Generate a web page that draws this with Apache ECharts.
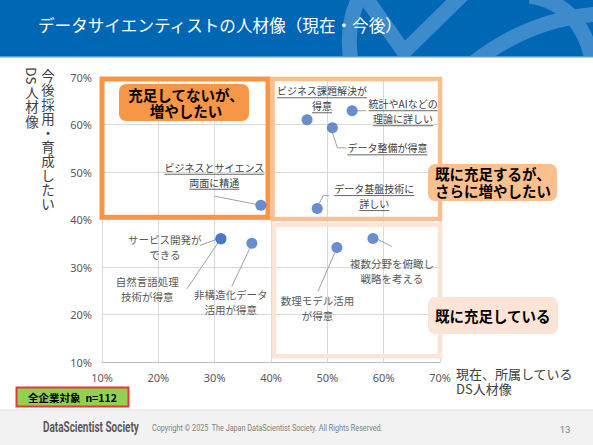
<!DOCTYPE html>
<html><head><meta charset="utf-8">
<script src="https://cdn.jsdelivr.net/npm/echarts@6/dist/echarts.min.js"></script>
<style>html,body{margin:0;padding:0;background:#fff}#c{width:593px;height:445px}</style>
</head><body><div id="c"></div>
<script>
// ---- data ----
const itemNames = ['ビジネスとサイエンス両面に精通','ビジネス課題解決が得意','統計やAIなどの理論に詳しい','データ整備が得意','データ基盤技術に詳しい','サービス開発ができる','自然言語処理技術が得意','非構造化データ活用が得意','数理モデル活用が得意','複数分野を俯瞰し戦略を考える'];
const currentShare = [38.2, 46.4, 54.4, 50.9, 48.2, 31.1, 31.1, 36.6, 51.7, 58.1];
const futureShare  = [43.0, 61.0, 62.9, 59.3, 42.3, 36.0, 35.9, 35.0, 34.1, 36.0];
const labelLines = [['ビジネスとサイエンス','両面に精通'],['ビジネス課題解決が','得意'],['統計やAIなどの','理論に詳しい'],['データ整備が得意'],['データ基盤技術に','詳しい'],['サービス開発が','できる'],['自然言語処理','技術が得意'],['非構造化データ','活用が得意'],['数理モデル活用','が得意'],['複数分野を俯瞰し','戦略を考える']];
const axisTicks = [10, 20, 30, 40, 50, 60, 70];
const titleText = 'データサイエンティストの人材像（現在・今後）';
const xNameLines = ['現在、所属している','DS人材像'];
const yNameCol1 = '今後採用・育成したい';
const yNameCol2 = ['DS','人材像'];
const quadrantLabels = [['充足してないが、','増やしたい'],['既に充足するが、','さらに増やしたい'],['既に充足している']];
const sampleNote = '全企業対象  n=112';

// ---- layout (pixel offsets / styles) ----
const JP = '"Noto Sans CJK JP", sans-serif';
const labelLayout = [
  {dx:-46.5, dy:-30.5, upper:true,  leader:[[-5,-1],[-46,-9]]},
  {dx:15,    dy:-21.5, upper:true,  leader:null},
  {dx:51,    dy:0.5,   upper:true,  leader:[[5,0],[14,0]]},
  {dx:55,    dy:20,    upper:true,  leader:[[0,5],[5,20],[14,20]]},
  {dx:57,    dy:-12.5, upper:true,  leader:[[2,-5],[6,-13],[12,-13]]},
  {dx:-56,   dy:8,     upper:false, leader:[[-5,1],[-21,7]]},
  {dx:-73.5, dy:50.5,  upper:false, leader:[[-3,4],[-34,50]]},
  {dx:-21,   dy:59,    upper:false, leader:[[-2,5],[-20,43]]},
  {dx:-19.5, dy:60,    upper:false, leader:[[-2,5],[-19,44]]},
  {dx:19,    dy:32.5,  upper:false, leader:[[5,1],[19,8]]}
];
const quadrants = [
  {x:[9.64, 39.47], y:[40.5, 69.6], color:'#F79646', width:5},
  {x:[40.27, 70.18], y:[40.1, 69.6], color:'#FAC090', width:4.5},
  {x:[40.53, 70.18], y:[11.2, 38.9], color:'#FCE4D6', width:4.5}
];

const mctx = document.createElement('canvas').getContext('2d');
function measure(t, font){ mctx.font = font; return mctx.measureText(t).width; }

const chart = echarts.init(document.getElementById('c'), null, {renderer:'svg'});
const option = {
  backgroundColor:'#ffffff',
  animation:false,
  grid:{left:102, right:153, top:77, bottom:83},
  xAxis:{type:'value', min:axisTicks[0], max:axisTicks[axisTicks.length-1], interval:10,
    axisLine:{show:true, lineStyle:{color:'#BFBFBF'}}, axisTick:{show:false},
    splitLine:{show:true, lineStyle:{color:'#D9D9D9'}},
    axisLabel:{formatter:'{value}%', color:'#595959', fontSize:11, fontFamily:'"Noto Sans", sans-serif', margin:10}},
  yAxis:{type:'value', min:axisTicks[0], max:axisTicks[axisTicks.length-1], interval:10,
    axisLine:{show:true, lineStyle:{color:'#D9D9D9'}}, axisTick:{show:false},
    splitLine:{show:true, lineStyle:{color:'#D9D9D9'}},
    axisLabel:{formatter:'{value}%', color:'#595959', fontSize:11, fontFamily:'"Noto Sans", sans-serif', margin:10}},
  series:[{
    type:'scatter', name:'人材像', clip:false, z:3,
    symbolSize:11, itemStyle:{color:'#4472C4'},
    data: itemNames.map((n,i)=>({name:n, value:[currentShare[i], futureShare[i]]})),
    markArea:{silent:true, label:{show:false},
      data: quadrants.map(q=>[
        {xAxis:q.x[0], yAxis:q.y[1], itemStyle:{color:'rgba(0,0,0,0)', borderColor:q.color, borderWidth:q.width}},
        {xAxis:q.x[1], yAxis:q.y[0]}
      ])}
  }]
};
chart.setOption(option);

const g = [];
// header
g.push({type:'rect', shape:{x:0,y:0,width:593,height:57}, style:{fill:'#0067B5'}, z:0});
const deco = {stroke:'#3D8BCB', lineWidth:15, fill:null, lineCap:'butt'};
g.push({type:'bezierCurve', shape:{x1:351,y1:62,x2:360,y2:-4,cpx1:345,cpy1:25}, style:deco, z:1});
g.push({type:'polyline', shape:{points:[[363,-6],[404,52],[463,-6]]}, style:Object.assign({lineJoin:'round'},deco), z:1});
g.push({type:'bezierCurve', shape:{x1:472,y1:64,x2:600,y2:14,cpx1:530,cpy1:18}, style:deco, z:1});
g.push({type:'bezierCurve', shape:{x1:530,y1:-4,x2:593,y2:64,cpx1:582,cpy1:4}, style:deco, z:1});
g.push({type:'rect', shape:{x:320,y:57,width:273,height:18}, style:{fill:'#ffffff'}, z:2});
g.push({type:'rect', shape:{x:0,y:56,width:593,height:1.5}, style:{fill:'#5B9BD5'}, z:3});
g.push({type:'text', x:38, y:25, style:{text:titleText, fill:'#ffffff', fontSize:16.6, fontFamily:JP, align:'left', verticalAlign:'middle'}, z:4});

// y axis name (vertical, one text per column)
const yfs = 13.5, ylh = 14.2;
g.push({type:'text', x:48, y:68, style:{text:yNameCol1.split('').join('\n'), fill:'#404040', fontSize:yfs, lineHeight:ylh, fontFamily:JP, align:'center', verticalAlign:'top'}, z:4});
g.push({type:'text', x:32, y:76, rotation:-Math.PI/2, style:{text:yNameCol2[0], fill:'#404040', fontSize:yfs, fontFamily:JP, align:'center', verticalAlign:'middle'}, z:4});
g.push({type:'text', x:32, y:85, style:{text:yNameCol2[1].split('').join('\n'), fill:'#404040', fontSize:yfs, lineHeight:ylh, fontFamily:JP, align:'center', verticalAlign:'top'}, z:4});
// x axis name
g.push({type:'text', x:456, y:366, style:{text:xNameLines.join('\n'), fill:'#404040', fontSize:13, lineHeight:15, fontFamily:JP, align:'left', verticalAlign:'top'}, z:4});

// point labels + leader lines
itemNames.forEach((n,i)=>{
  const p = chart.convertToPixel({gridIndex:0}, [currentShare[i], futureShare[i]]);
  const L = labelLayout[i];
  if (L.leader) {
    g.push({type:'polyline', shape:{points:L.leader.map(o=>[p[0]+o[0], p[1]+o[1]])}, style:{stroke:'#A0A0A0', lineWidth:1, fill:null}, z:1});
  }
  const fs = L.upper ? 10 : 10.5, lh = 15;
  const col = L.upper ? '#404040' : '#595959';
  const lines = labelLines[i];
  const cx = p[0] + L.dx, cy = p[1] + L.dy;
  const top = cy - lines.length*lh/2;
  g.push({type:'text', x:cx, y:top, style:{text:lines.join('\n'), fill:col, fontSize:fs, lineHeight:lh, fontFamily:JP, align:'center', verticalAlign:'top'}, z:6});
  if (L.upper) {
    lines.forEach((t,k)=>{
      const y = top + lh*k + lh/2 + fs/2 + 2;
      const w = measure(t, fs + 'px ' + JP);
      g.push({type:'line', shape:{x1:cx-w/2, y1:y, x2:cx+w/2, y2:y}, style:{stroke:col, lineWidth:0.8}, z:6});
    });
  }
});

// quadrant label boxes
const qfs = 14.5;
g.push({type:'rect', shape:{x:119,y:84,width:130,height:37,r:7}, style:{fill:'#F79646'}, z:7});
g.push({type:'text', x:186, y:102.5, style:{text:quadrantLabels[0].join('\n'), fill:'#000000', fontSize:qfs, lineHeight:16.5, fontWeight:'bold', fontFamily:JP, align:'center', verticalAlign:'middle'}, z:8});
g.push({type:'rect', shape:{x:428,y:164,width:129,height:37,r:7}, style:{fill:'#FAC090'}, z:7});
g.push({type:'text', x:435, y:182, style:{text:quadrantLabels[1].join('\n'), fill:'#000000', fontSize:qfs, lineHeight:17, fontWeight:'bold', fontFamily:JP, align:'left', verticalAlign:'middle'}, z:8});
g.push({type:'rect', shape:{x:428,y:297,width:130,height:37,r:7}, style:{fill:'#FCE4D6'}, z:7});
g.push({type:'text', x:435, y:315.5, style:{text:quadrantLabels[2][0], fill:'#000000', fontSize:qfs, fontWeight:'bold', fontFamily:JP, align:'left', verticalAlign:'middle'}, z:8});

// sample note
g.push({type:'rect', shape:{x:16.5,y:387.5,width:112,height:19}, style:{fill:'#92D050', stroke:'#E03A3A', lineWidth:2}, z:7});
g.push({type:'text', x:72.5, y:397.5, style:{text:sampleNote, fill:'#000000', fontSize:10.5, fontWeight:'bold', fontFamily:JP, align:'center', verticalAlign:'middle'}, z:8});

// footer
g.push({type:'rect', shape:{x:0,y:410,width:593,height:35}, style:{fill:'#F2F2F2'}, z:0});
g.push({type:'rect', shape:{x:0,y:409.5,width:593,height:1}, style:{fill:'#E4E4E4'}, z:0});
const brand = 'DataScientist Society';
const bw = measure(brand, 'bold 14px Roboto');
g.push({type:'text', x:43, y:427, scaleX:96/bw, style:{text:brand, fill:'#595959', fontSize:14, fontWeight:'bold', fontFamily:'Roboto', align:'left', verticalAlign:'middle'}, z:4});
const copy = 'Copyright © 2025  The Japan DataScientist Society. All Rights Reserved.';
const cw = measure(copy, '8.5px Roboto');
g.push({type:'text', x:152, y:428, scaleX:231/cw, style:{text:copy, fill:'#7F7F7F', fontSize:8.5, fontFamily:'Roboto', align:'left', verticalAlign:'middle'}, z:4});
g.push({type:'text', x:565, y:429, style:{text:'13', fill:'#7F7F7F', fontSize:9.5, fontFamily:'Roboto', align:'center', verticalAlign:'middle'}, z:4});

chart.setOption({graphic:{elements:g}});
</script></body></html>
